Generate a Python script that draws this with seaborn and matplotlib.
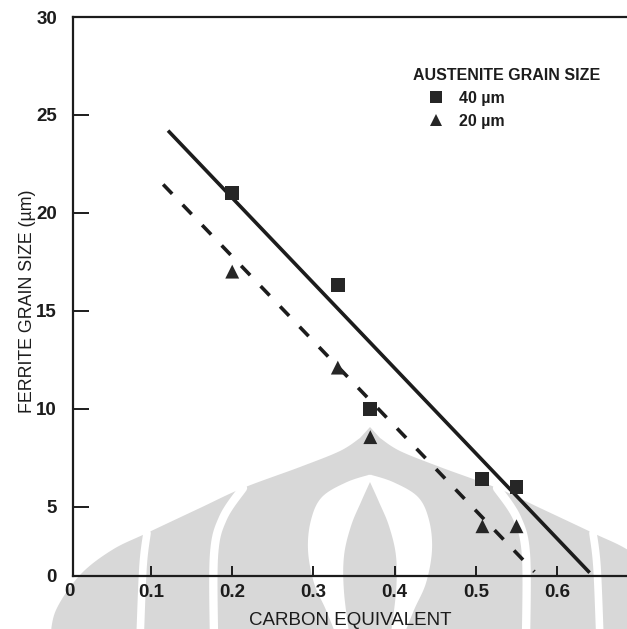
import numpy as np
import pandas as pd
import matplotlib
matplotlib.use("Agg")
import matplotlib.pyplot as plt
from matplotlib.lines import Line2D
from matplotlib.patches import Polygon
import seaborn as sns

# Measured ferrite grain size vs. carbon equivalent, two austenite grain sizes
ce_40 = [0.20, 0.33, 0.37, 0.508, 0.55]
fgs_40 = [21.0, 16.3, 10.0, 6.4, 6.0]
ce_20 = [0.20, 0.33, 0.37, 0.508, 0.55]
fgs_20 = [17.0, 12.1, 8.55, 4.0, 4.0]

# Fitted trend lines (end points)
fit40_x = [0.121, 0.640]
fit40_y = [24.2, 1.63]
fit20_x = [0.115, 0.572]
fit20_y = [21.45, 1.68]

series_labels = ["40 \u00b5m", "20 \u00b5m"]
x_ticks = [0.1, 0.2, 0.3, 0.4, 0.5, 0.6]
y_ticks = [5, 10, 15, 20, 25, 30]

INK = "#1c1c1c"
MARK = "#262626"
SHADE = "#d8d8d8"

sns.set_theme(style="ticks")
plt.rcParams["font.family"] = ["Liberation Sans", "DejaVu Sans"]
plt.rcParams["text.color"] = INK
plt.rcParams["axes.labelcolor"] = INK
plt.rcParams["xtick.color"] = INK
plt.rcParams["ytick.color"] = INK

W, H = 627, 629
fig = plt.figure(figsize=(W / 100, H / 100), dpi=100)


def smooth(points, n=12):
    """Catmull-Rom curve through the given points."""
    p = np.asarray(points, dtype=float)
    p = np.vstack([p[0], p, p[-1]])
    out = []
    for i in range(1, len(p) - 2):
        p0, p1, p2, p3 = p[i - 1], p[i], p[i + 1], p[i + 2]
        for t in np.linspace(0, 1, n, endpoint=False):
            t2, t3 = t * t, t * t * t
            out.append(0.5 * ((2 * p1) + (-p0 + p2) * t
                              + (2 * p0 - 5 * p1 + 4 * p2 - p3) * t2
                              + (-p0 + 3 * p1 - 3 * p2 + p3) * t3))
    out.append(p[-2])
    return np.array(out)


def mirror(points, cx):
    return [(2 * cx - x, y) for x, y in reversed(points)]


# light background emblem, drawn in page pixels behind the chart
bg = fig.add_axes([0, 0, 1, 1], zorder=0)
bg.set_xlim(0, W)
bg.set_ylim(H, 0)
bg.axis("off")
cx = 370
left_top = [(50, 640), (56, 610), (80, 575), (112, 550), (147, 533),
            (200, 508), (243, 488), (300, 467), (340, 451), (360, 438)]
outline = np.vstack([smooth(left_top), [(cx, 427)],
                     smooth(mirror(left_top, cx))])
outline = np.vstack([outline, [(W + 80, 640)]])
bg.add_patch(Polygon(outline, closed=True, facecolor=SHADE, edgecolor="none"))

for band, lw in (([(147, 533), (143, 567), (140, 640)], 5.5),
                 ([(243, 488), (223, 518), (214, 555), (214, 640)], 6)):
    for pts in (band, mirror(band, cx)[::-1]):
        c = smooth(pts)
        bg.plot(c[:, 0], c[:, 1], color="white", lw=lw,
                solid_capstyle="round")

inner_left = [(372, 474), (347, 482), (322, 497), (311, 520), (308, 550),
              (314, 583), (326, 610), (338, 640)]
inner = np.vstack([smooth(inner_left), smooth(mirror(inner_left, cx))[1:]])
bg.add_patch(Polygon(inner, closed=True, facecolor="white", edgecolor="none"))

spike_left = [(370, 482), (361, 502), (351, 526), (344, 556), (344, 592),
              (350, 640)]
spike = np.vstack([smooth(spike_left), smooth(mirror(spike_left, cx))[1:]])
bg.add_patch(Polygon(spike, closed=True, facecolor=SHADE, edgecolor="none"))

# main chart
ax = fig.add_axes([73 / W, 1 - 576 / H, (W - 73) / W, (576 - 17) / H],
                  zorder=1)
ax.set_facecolor("none")

df = pd.DataFrame({
    "ce": ce_40 + ce_20,
    "fgs": fgs_40 + fgs_20,
    "austenite": [series_labels[0]] * len(ce_40) + [series_labels[1]] * len(ce_20),
})

sns.lineplot(x=fit40_x, y=fit40_y, ax=ax, color=INK, linewidth=2.6,
             legend=False, solid_capstyle="butt", zorder=2)
sns.lineplot(x=fit20_x, y=fit20_y, ax=ax, color=INK, linewidth=2.6,
             linestyle=(0, (3.6, 4.2)), legend=False, zorder=2)
sns.scatterplot(data=df, x="ce", y="fgs", style="austenite",
                markers={series_labels[0]: "s", series_labels[1]: "^"},
                color=MARK, s=100, linewidth=0, legend=False,
                ax=ax, zorder=3)

ax.set_xlim(0.004, 0.686)
ax.set_ylim(1.46, 30)

# axis frame: left, bottom and top lines; the right edge runs off the page
for side in ("left", "bottom", "top"):
    ax.spines[side].set_color(INK)
    ax.spines[side].set_linewidth(1.6)
ax.spines["right"].set_visible(False)

ax.set_xticks(x_ticks)
ax.set_xticklabels([f"{v:.1f}" for v in x_ticks])
ax.set_yticks([ax.get_ylim()[0]] + y_ticks)
ax.set_yticklabels(["0"] + [str(v) for v in y_ticks])
ax.tick_params(axis="y", direction="in", length=11.5, width=1.4, pad=11.5,
               labelsize=13.5)
ax.tick_params(axis="x", direction="in", length=7.5, width=1.4, pad=6,
               labelsize=13.5)
for lab in ax.get_xticklabels() + ax.get_yticklabels():
    lab.set_fontweight("bold")

# corner label for the origin of the x axis
ax.text(0, -0.012, "0", transform=ax.get_xaxis_transform(), ha="center",
        va="top", fontsize=13.5, fontweight="bold", color=INK, clip_on=False)

ax.set_xlabel("CARBON EQUIVALENT", fontsize=13.5, labelpad=7.5)
ax.set_ylabel("FERRITE GRAIN SIZE (\u00b5m)", fontsize=12.8)
ax.yaxis.set_label_coords(-0.066, 0.492)

handles = [
    Line2D([], [], linestyle="none", marker="s", markersize=8.5,
           color=MARK, markeredgewidth=0),
    Line2D([], [], linestyle="none", marker="^", markersize=9,
           color=MARK, markeredgewidth=0),
]
leg = ax.legend(handles, series_labels, title="AUSTENITE GRAIN SIZE",
                loc="upper left", bbox_to_anchor=(413 / W, 1 - 68 / H),
                bbox_transform=fig.transFigure, frameon=False,
                borderpad=0, borderaxespad=0, handlelength=2.9,
                handletextpad=0.0, labelspacing=0.5, alignment="left",
                prop={"size": 11.5, "weight": "bold"},
                title_fontproperties={"size": 11.5, "weight": "bold"})

fig.savefig("out.png", dpi=100, facecolor="white")
